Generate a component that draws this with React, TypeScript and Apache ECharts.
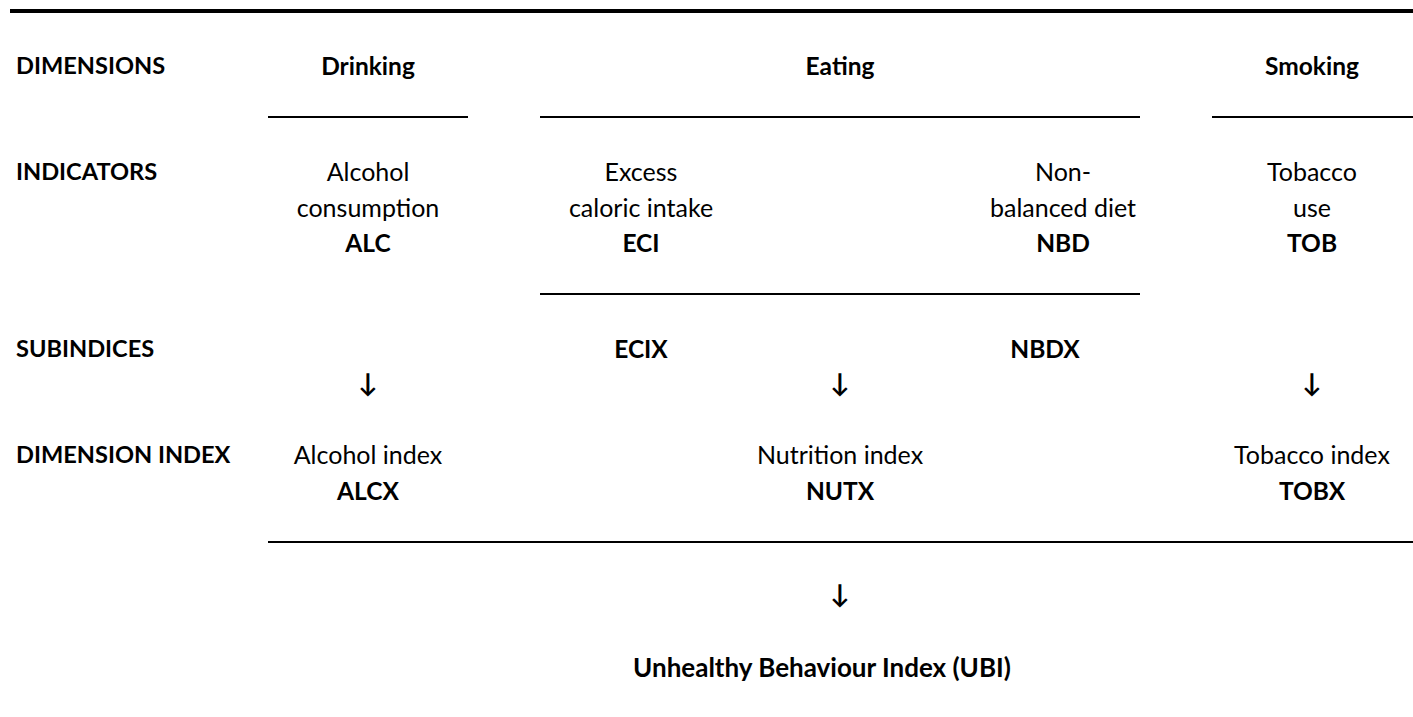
import React, { useEffect, useRef } from "react";
import * as echarts from "echarts";

// ---- content ----
const rowLabels = ["DIMENSIONS", "INDICATORS", "SUBINDICES", "DIMENSION INDEX"];
const dimensions = ["Drinking", "Eating", "Smoking"];
const indicatorNames = [["Alcohol", "consumption"], ["Excess", "caloric intake"], ["Non-", "balanced diet"], ["Tobacco", "use"]];
const indicatorCodes = ["ALC", "ECI", "NBD", "TOB"];
const subindices = ["ECIX", "NBDX"];
const dimensionIndexNames = ["Alcohol index", "Nutrition index", "Tobacco index"];
const dimensionIndexCodes = ["ALCX", "NUTX", "TOBX"];
const finalIndex = "Unhealthy Behaviour Index (UBI)";
const arrow = "\u2193";

// ---- layout ----
const W = 1413;
const H = 717;
const FONT = "Lato, 'Open Sans', sans-serif";
const FS_REG = 25;
const FS_BOLD = 24.5;
const LH = 36;
const dimX = [368, 840, 1312];
const indX = [368, 641, 1063, 1312];
const subX = [641, 1045];
const rowY = [65, 171, 348, 454];

function txt(text: string, x: number, y: number, bold: boolean, align: string = "center", size?: number) {
  return {
    type: "text",
    style: {
      text,
      x,
      y,
      align,
      verticalAlign: "middle",
      fontFamily: FONT,
      fontSize: size || (bold ? FS_BOLD : FS_REG),
      fontWeight: bold ? "bold" : "normal",
      fill: "#000",
    },
  };
}

function hline(x1: number, x2: number, y: number, w = 2) {
  return {
    type: "line",
    shape: { x1, y1: y, x2, y2: y },
    style: { stroke: "#000", lineWidth: w },
  };
}

export default function App() {
  const ref = useRef<HTMLDivElement>(null);
  useEffect(() => {
    if (!ref.current) return;
    const chart = echarts.init(ref.current, null, { renderer: "svg" });
    const els: any[] = [];
    els.push(hline(10, W, 11, 4));
    rowLabels.forEach((l, i) => els.push(txt(l, 16, rowY[i], true, "left", 23.6)));
    dimensions.forEach((d, i) => els.push(txt(d, dimX[i], rowY[0], true)));
    els.push(hline(268, 468, 117));
    els.push(hline(540, 1140, 117));
    els.push(hline(1212, W, 117));
    indicatorNames.forEach((lines, i) => {
      lines.forEach((ln, j) => els.push(txt(ln, indX[i], rowY[1] + j * LH, false)));
      els.push(txt(indicatorCodes[i], indX[i], rowY[1] + 2 * LH - 1, true));
    });
    els.push(hline(540, 1140, 294));
    subindices.forEach((s, i) => els.push(txt(s, subX[i], rowY[2], true)));
    dimX.forEach((x) => els.push(txt(arrow, x, 382, true, "center", 26)));
    dimensionIndexNames.forEach((n, i) => {
      els.push(txt(n, dimX[i], rowY[3], false));
      els.push(txt(dimensionIndexCodes[i], dimX[i], rowY[3] + LH, true));
    });
    els.push(hline(268, W, 542));
    els.push(txt(arrow, 840, 593, true, "center", 26));
    els.push(txt(finalIndex, 822, 667, true, "center", 26));

    chart.setOption({
      animation: false,
      backgroundColor: "#fff",
      graphic: { elements: els },
    });
    return () => chart.dispose();
  }, []);
  return (
    <div
      ref={ref}
      style={{ position: "fixed", left: 0, top: 0, width: W, height: H, background: "#fff" }}
    />
  );
}
